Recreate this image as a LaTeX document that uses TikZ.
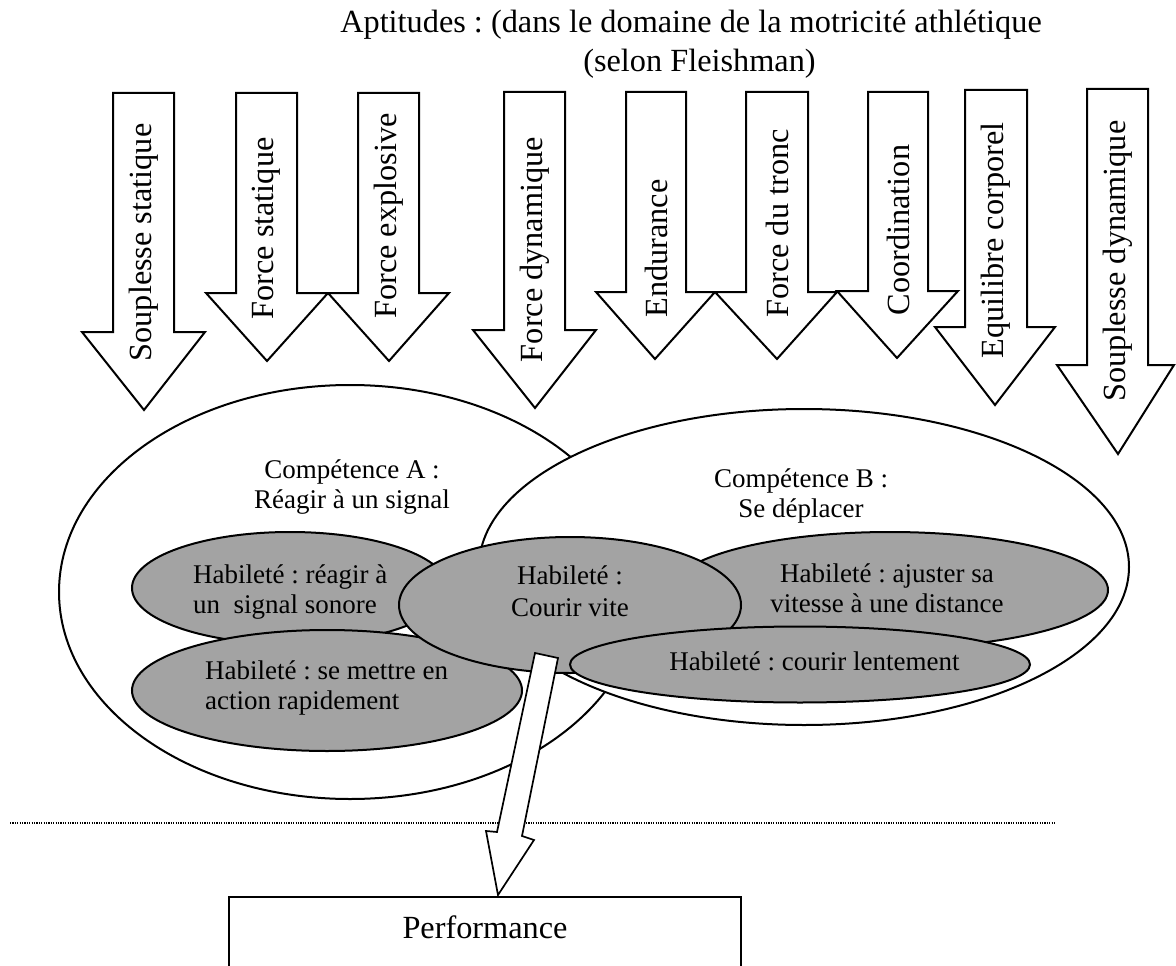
\documentclass[tikz,border=0pt]{standalone}
\usepackage{fontspec}
\setmainfont{Liberation Serif}
\usetikzlibrary{shapes.geometric}
\frenchspacing
\newcommand\blockarr[8]{\draw[barrow] (#1,#3) -- (#1,#4) -- (#5,#4) -- (#7,#8) -- (#6,#4) -- (#2,#4) -- (#2,#3) -- cycle;}
\begin{document}
\begin{tikzpicture}[x=1pt,y=-1pt,
  barrow/.style={draw=black, fill=white, line width=2pt, line join=miter},
  bigtxt/.style={font=\fontsize{32.3}{39}\selectfont, inner sep=0pt},
  arrtxt/.style={bigtxt, rotate=90, anchor=center},
  comp/.style={draw=black, fill=white, line width=2pt, ellipse, inner sep=0pt},
  hab/.style={draw=black, fill=black!36, line width=2pt, ellipse, inner sep=0pt},
  smalltxt/.style={font=\fontsize{27}{30}\selectfont, inner sep=0pt},
  dotline/.style={line width=1.4pt, dash pattern=on 1.2pt off 1.2pt},
]
\useasboundingbox (0,0) rectangle (1176,966);
\fill[white] (0,0) rectangle (1176,966);

% title
\node[bigtxt, anchor=base] (title1) at (691,33) {Aptitudes : (dans le domaine de la motricité athlétique};
\node[bigtxt, anchor=base] (title2) at (699.5,72) {(selon Fleishman)};

% aptitude block arrows
\blockarr{113}{174}{93}{332}{82}{205}{144}{410}
\blockarr{236}{297}{93}{293}{206}{328}{267}{361}
\blockarr{358}{419}{93}{293}{328}{449}{389}{361}
\blockarr{504}{565}{92}{330}{473}{596}{535}{408}
\blockarr{626}{686}{92}{292}{596}{715}{655}{359}
\blockarr{746}{808}{92}{292}{715}{837}{777}{359}
\blockarr{868}{928}{92}{291}{837}{958}{897}{358}
\blockarr{965}{1027}{90}{327}{935}{1055}{995}{405}
\blockarr{1087}{1148}{89}{365}{1057}{1174}{1118}{454}

\node[arrtxt] (a1) at (143.5,242.5) {Souplesse statique};
\node[arrtxt] (a2) at (266.5,228.5) {Force statique};
\node[arrtxt] (a3) at (388.5,216) {Force explosive};
\node[arrtxt] (a4) at (534.5,249.5) {Force dynamique};
\node[arrtxt] (a5) at (656,248.5) {Endurance};
\node[arrtxt] (a6) at (777,223.5) {Force du tronc};
\node[arrtxt] (a7) at (898,230) {Coordination};
\node[arrtxt] (a8) at (996,240.5) {Equilibre corporel};
\node[arrtxt] (a9) at (1117.5,261) {Souplesse dynamique};

% competences
\node[comp, minimum width=582pt, minimum height=414pt] (eA) at (350,592) {};
\node[comp, minimum width=650pt, minimum height=316pt] (eB) at (804,567) {};
\node[smalltxt, align=center] (tA) at (352,486.6) {Compétence A :\\Réagir à un signal};
\node[smalltxt, align=center] (tB) at (801,496.1) {Compétence B :\\Se déplacer};

% habiletes
\node[hab, minimum width=316pt, minimum height=112pt] (h1) at (290,588) {};
\node[hab, minimum width=390pt, minimum height=121pt] (h2) at (327,690.5) {};
\node[hab, minimum width=436pt, minimum height=116pt] (h4) at (890,590) {};
\node[hab, minimum width=342pt, minimum height=136pt] (h3) at (570,605) {};
\node[hab, minimum width=460pt, minimum height=76pt] (h5) at (800,664.5) {};

\node[smalltxt, align=left, anchor=west] (t1) at (193,591.6) {Habileté : réagir à\\un\ \ signal sonore};
\node[smalltxt, align=left, anchor=west] (t2) at (205,688) {Habileté : se mettre en\\action rapidement};
\node[smalltxt, align=center] (t3) at (570,591.6) {Habileté :\\[2pt]Courir vite};
\node[smalltxt, align=center] (t4) at (887,588.6) {Habileté : ajuster sa\\vitesse à une distance};
\node[smalltxt, anchor=base] (t5) at (814.5,670) {Habileté : courir lentement};

% dotted separator
\coordinate (dl) at (10,823);
\coordinate (dr) at (1056,823);
\draw[dotline] (dl) -- (dr);

% performance
\node[draw, line width=2pt, anchor=north, minimum width=512pt, font=\fontsize{32.3}{39}\selectfont,
      text height=23pt, text depth=40pt, inner ysep=18pt, inner xsep=0pt] (perf) at (485,896) {Performance};

% big arrow from the skill to the performance
\coordinate (bigtop) at (546.5,655.5);
\coordinate (bigtip) at (498,895);
\draw[barrow, line width=1.7pt] (535,653) -- (497,832) -- (486,831) -- (bigtip) -- (534,840) -- (522,836) -- (558,658) -- cycle;
\end{tikzpicture}
\end{document}
